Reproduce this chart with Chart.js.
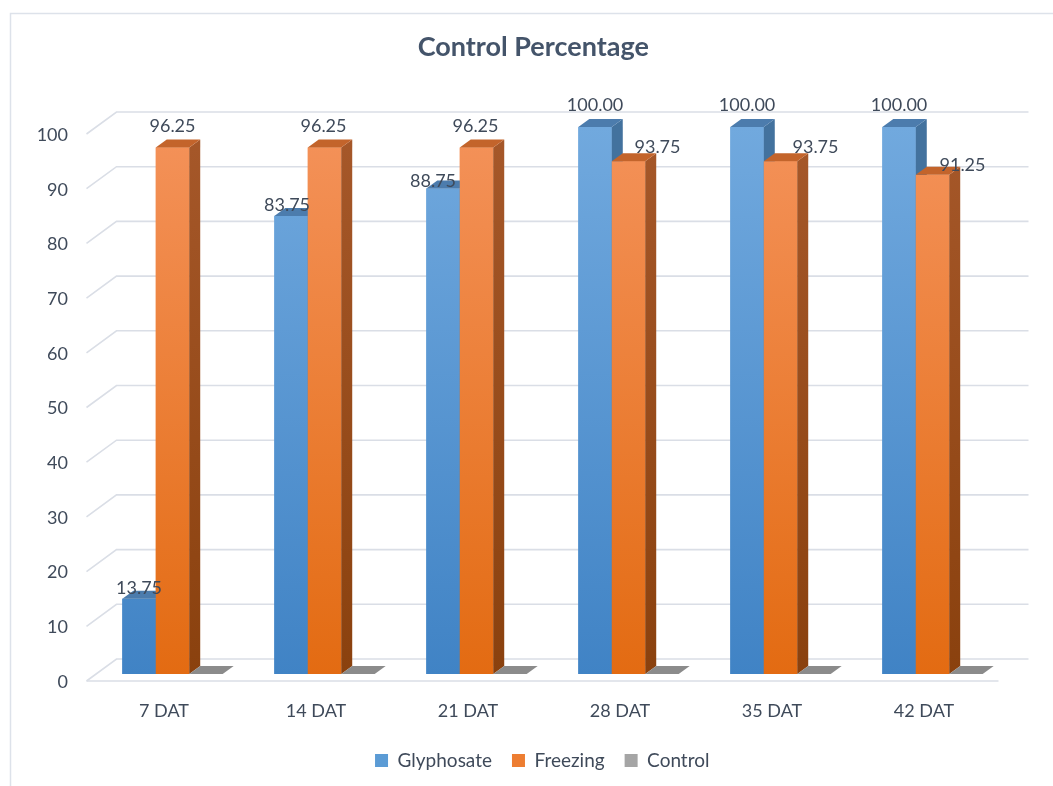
<!DOCTYPE html>
<html>
<head>
<meta charset="utf-8">
<title>Control Percentage</title>
<script src="https://cdn.jsdelivr.net/npm/chart.js@4.4.1/dist/chart.umd.min.js"></script>
<style>
    html, body { margin: 0; padding: 0; background: #fff; }
    #wrap { width: 1053px; height: 786px; position: relative; }
</style>
</head>
<body>
<div id="wrap"><canvas id="barChart"></canvas></div>
<script>
const categories = ["7 DAT", "14 DAT", "21 DAT", "28 DAT", "35 DAT", "42 DAT"];
const seriesNames = ["Glyphosate", "Freezing", "Control"];
const glyphosate = [13.75, 83.75, 88.75, 100, 100, 100];
const freezing = [96.25, 96.25, 96.25, 93.75, 93.75, 91.25];
const control = [0, 0, 0, 0, 0, 0];
const yMin = 0, yMax = 100, yStep = 10;

// label nudges (px) so the value labels sit where the original put them
const labelShiftX = [[0, -4, -10, 0, 0, 0], [0, -1, -1, 29, 35, 30]];
const labelShiftY = [[11, 11, 7, 22, 22, 22], [21, 21, 21, 14, 14, 10]];

const FONT = "Lato, 'Open Sans', sans-serif";
const TEXT = "#3f4a5a";

// fake 3D: bar depth, floor front edge and back wall offsets
const DEPTH = { dx: 11, dy: 8 };
const FRONT = { dx: -10, dy: 7 };
const BACK = { dx: 20, dy: -15 };

const faceColors = [
    { front: ["#71a9de", "#4083c5"], side: "#43729e", top: "#4c7cad", legend: "#5b9bd5" },
    { front: ["#f4925a", "#e36b12"], side: ["#a6582a", "#8a410e"], top: "#c3642b", legend: "#ed7d31" },
    { front: ["#a5a5a5", "#8c8c8c"], side: "#7a7a7a", top: "#8b8b8b", legend: "#a5a5a5" },
];

function vertGradient(colors) {
    return (ctx) => {
        const chart = ctx.chart;
        const area = chart.chartArea;
        if (!area) return colors[1];
        const g = chart.ctx.createLinearGradient(0, area.top, 0, area.bottom);
        g.addColorStop(0, colors[0]);
        g.addColorStop(1, colors[1]);
        return g;
    };
}

function poly(ctx, pts, fill) {
    ctx.beginPath();
    ctx.moveTo(pts[0][0], pts[0][1]);
    for (let i = 1; i < pts.length; i++) ctx.lineTo(pts[i][0], pts[i][1]);
    ctx.closePath();
    ctx.fillStyle = fill;
    ctx.fill();
}

const frame3d = {
    id: "frame3d",
    afterLayout(chart) {
        // title and legend are centred a bit right of the canvas middle
        chart.titleBlock.left += 19;
        chart.titleBlock.right += 19;
        chart.legend.left += 28;
        chart.legend.right += 28;
    },
    beforeDraw(chart) {
        const ctx = chart.ctx;
        ctx.save();
        ctx.strokeStyle = "#dde2ea";
        ctx.lineWidth = 1.5;
        ctx.strokeRect(10.5, 13.5, 1100, 900);
        ctx.restore();
    },
    beforeDatasetsDraw(chart) {
        const ctx = chart.ctx;
        const y = chart.scales.y;
        const { left, right } = chart.chartArea;
        ctx.save();
        ctx.strokeStyle = "#dadee6";
        ctx.lineWidth = 1.6;
        y.ticks.forEach((t) => {
            const yb = y.getPixelForValue(t.value);
            ctx.beginPath();
            ctx.moveTo(left + FRONT.dx, yb + FRONT.dy);
            ctx.lineTo(left + BACK.dx, yb + BACK.dy);
            ctx.lineTo(right + BACK.dx, yb + BACK.dy);
            ctx.stroke();
            if (t.value === yMin) {
                ctx.beginPath();
                ctx.moveTo(left + FRONT.dx, yb + FRONT.dy);
                ctx.lineTo(right + FRONT.dx, yb + FRONT.dy);
                ctx.stroke();
            }
        });
        ctx.restore();
    },
    afterDatasetsDraw(chart) {
        const ctx = chart.ctx;
        const area = chart.chartArea;
        ctx.save();
        chart.data.datasets.forEach((ds, di) => {
            const meta = chart.getDatasetMeta(di);
            const c = faceColors[di];
            meta.data.forEach((bar) => {
                const { x, y, base, width } = bar.getProps(["x", "y", "base", "width"], true);
                const l = x - width / 2, r = x + width / 2;
                if (base - y > 0.5) {
                    ctx.fillStyle = bar.options.backgroundColor;
                    ctx.fillRect(l, y, width, base - y);
                    let side = c.side;
                    if (Array.isArray(side)) {
                        const g = ctx.createLinearGradient(0, area.top, 0, area.bottom);
                        g.addColorStop(0, side[0]);
                        g.addColorStop(1, side[1]);
                        side = g;
                    }
                    poly(ctx, [[r, y], [r + DEPTH.dx, y - DEPTH.dy], [r + DEPTH.dx, base - DEPTH.dy], [r, base]], side);
                }
                poly(ctx, [[l, y], [l + DEPTH.dx, y - DEPTH.dy], [r + DEPTH.dx, y - DEPTH.dy], [r, y]], c.top);
            });
        });
        // value labels
        ctx.font = "18px " + FONT;
        ctx.fillStyle = TEXT;
        ctx.textAlign = "center";
        ctx.textBaseline = "middle";
        [0, 1].forEach((di) => {
            const meta = chart.getDatasetMeta(di);
            meta.data.forEach((bar, i) => {
                const v = chart.data.datasets[di].data[i];
                ctx.fillText(v.toFixed(2), bar.x + labelShiftX[di][i], bar.y - labelShiftY[di][i]);
            });
        });
        ctx.restore();
    },
};

const barCtx = document.getElementById("barChart").getContext("2d");
const barChart = new Chart(barCtx, {
    type: "bar",
    data: {
        labels: categories,
        datasets: [glyphosate, freezing, control].map((vals, i) => ({
            label: seriesNames[i],
            data: vals,
            backgroundColor: vertGradient(faceColors[i].front),
            borderWidth: 0,
            barPercentage: 1,
            categoryPercentage: 0.66,
        })),
    },
    options: {
        responsive: true,
        maintainAspectRatio: false,
        animation: false,
        layout: { padding: { left: 20, right: 44.5, top: 0, bottom: 6 } },
        plugins: {
            title: {
                display: true,
                text: "Control Percentage",
                color: "#44546a",
                font: { family: FONT, size: 27, weight: "bold" },
                padding: { top: 30.8, bottom: 63.8 },
            },
            legend: {
                position: "bottom",
                labels: {
                    boxWidth: 13,
                    boxHeight: 13,
                    padding: 20,
                    color: TEXT,
                    font: { family: FONT, size: 19 },
                    generateLabels: (chart) => chart.data.datasets.map((ds, i) => ({
                        text: ds.label,
                        fillStyle: faceColors[i].legend,
                        strokeStyle: faceColors[i].legend,
                        lineWidth: 0,
                        fontColor: TEXT,
                        hidden: false,
                        datasetIndex: i,
                    })),
                },
            },
            tooltip: { enabled: false },
        },
        scales: {
            x: {
                grid: { display: false, drawTicks: false },
                border: { display: false },
                ticks: { color: TEXT, font: { family: FONT, size: 18 }, padding: 26, labelOffset: -8.5 },
                afterFit: (s) => { s.height = 57; },
            },
            y: {
                min: yMin,
                max: yMax,
                grid: { display: false, drawTicks: false },
                border: { display: false },
                ticks: { stepSize: yStep, color: TEXT, font: { family: FONT, size: 18 }, padding: 28.5, labelOffset: 8 },
                afterFit: (s) => { s.width = 76.5; },
            },
        },
    },
    plugins: [frame3d],
});
</script>
</body>
</html>
